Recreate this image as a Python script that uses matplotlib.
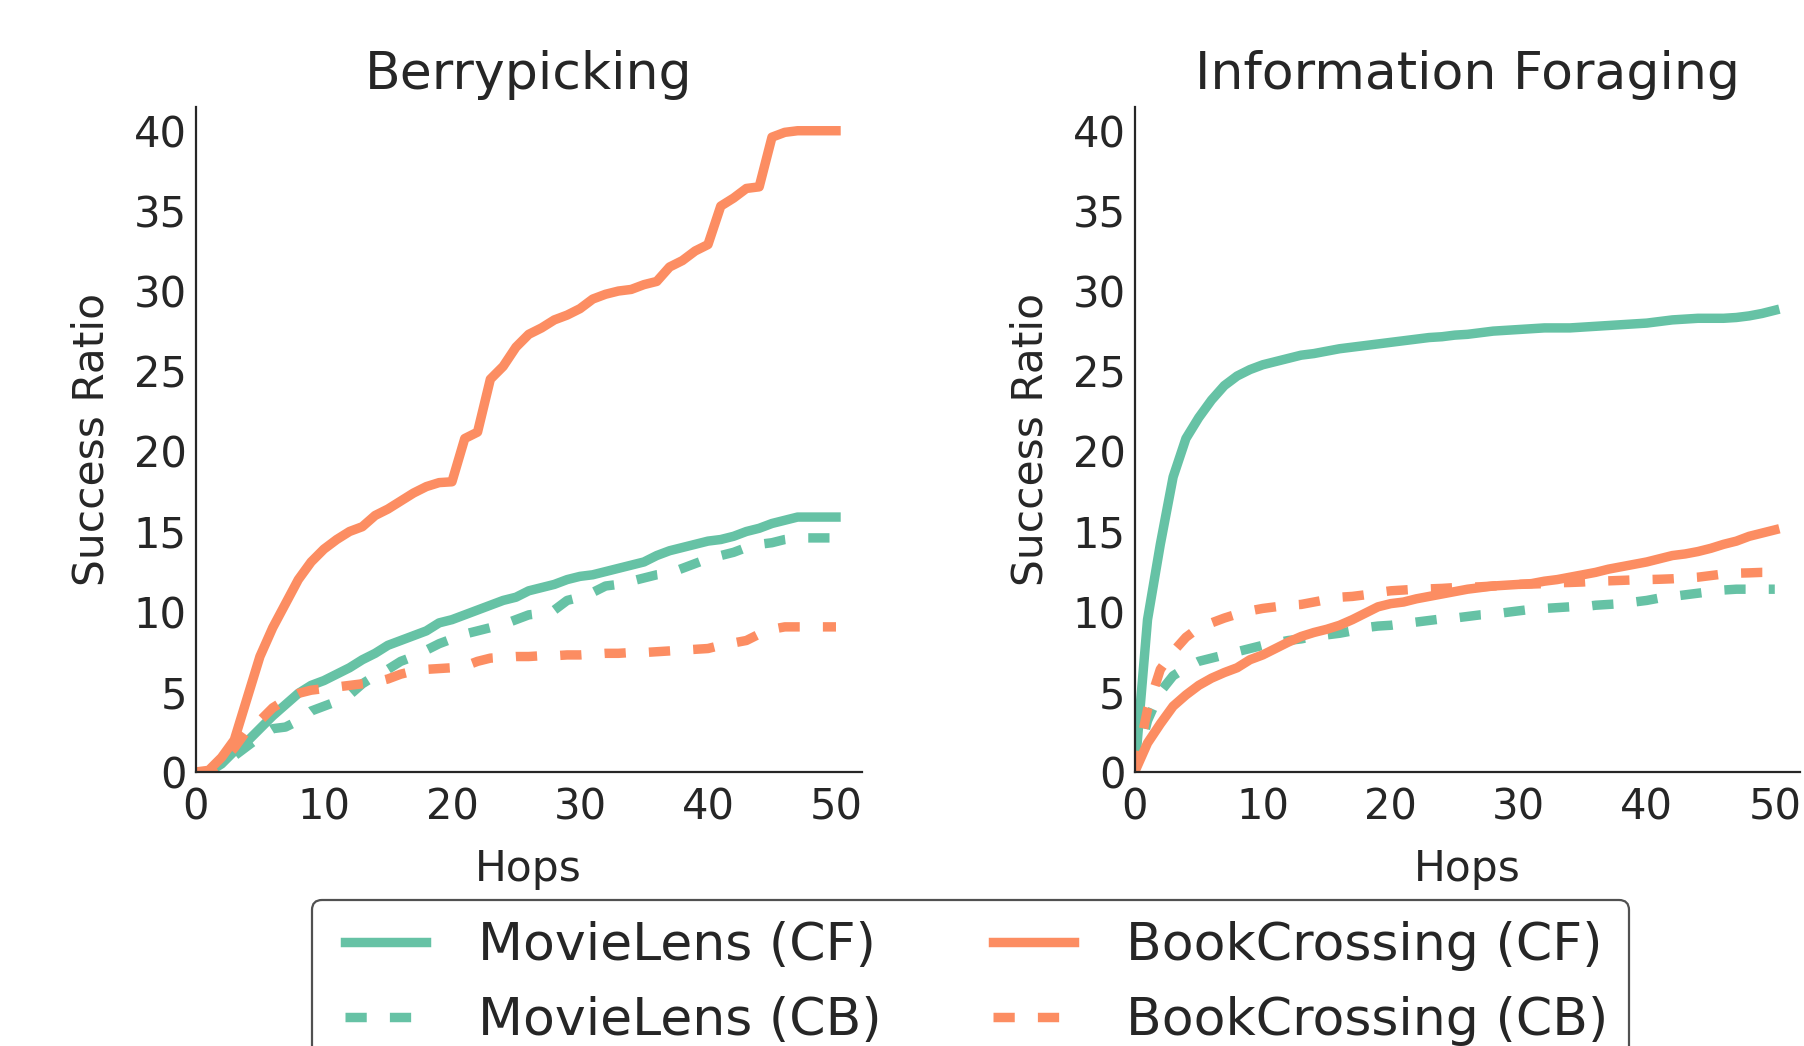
import matplotlib
matplotlib.use("Agg")
import matplotlib.pyplot as plt
from matplotlib.lines import Line2D
from matplotlib.legend_handler import HandlerLine2D

# hops 0..50
hops = list(range(51))

# Berrypicking
bp_movie_cf = [0, 0, 0.5, 1.3, 1.9, 2.7, 3.5, 4.2, 4.9, 5.4, 5.7, 6.1, 6.5, 7.0, 7.4, 7.9, 8.2,
               8.5, 8.8, 9.3, 9.5, 9.8, 10.1, 10.4, 10.7, 10.9, 11.3, 11.5, 11.7, 12.0, 12.2,
               12.3, 12.5, 12.7, 12.9, 13.1, 13.5, 13.8, 14.0, 14.2, 14.4, 14.5, 14.7, 15.0,
               15.2, 15.5, 15.7, 15.9, 15.9, 15.9, 15.9]
bp_movie_cb = [0, 0, 0.5, 1.0, 1.6, 2.2, 2.7, 2.8, 3.2, 3.8, 4.1, 4.4, 4.8, 5.5, 6.0, 6.4, 6.9,
               7.2, 7.6, 8.0, 8.3, 8.6, 8.8, 9.0, 9.2, 9.5, 9.8, 9.9, 10.1, 10.7, 10.9, 11.2,
               11.6, 11.7, 11.9, 12.1, 12.3, 12.4, 12.7, 13.0, 13.3, 13.5, 13.7, 14.0, 14.2,
               14.3, 14.5, 14.6, 14.6, 14.6, 14.6]
bp_book_cf = [0, 0.1, 0.9, 2.0, 4.6, 7.2, 9.0, 10.5, 12.0, 13.1, 13.9, 14.5, 15.0, 15.3, 16.0,
              16.4, 16.9, 17.4, 17.8, 18.05, 18.1, 20.8, 21.2, 24.5, 25.3, 26.5, 27.3, 27.7,
              28.2, 28.5, 28.9, 29.5, 29.8, 30.0, 30.1, 30.4, 30.6, 31.5, 31.9, 32.5, 32.9,
              35.3, 35.8, 36.4, 36.5, 39.6, 39.9, 40.0, 40.0, 40.0, 40.0]
bp_book_cb = [0, 0, 0.6, 1.5, 2.6, 3.2, 4.0, 4.5, 4.9, 5.1, 5.2, 5.3, 5.4, 5.5, 5.6, 5.8, 6.1,
              6.3, 6.4, 6.45, 6.5, 6.6, 6.9, 7.1, 7.15, 7.2, 7.2, 7.25, 7.25, 7.3, 7.3, 7.35,
              7.4, 7.4, 7.45, 7.45, 7.5, 7.55, 7.6, 7.65, 7.7, 7.9, 8.05, 8.2, 8.6, 8.9, 9.05,
              9.05, 9.05, 9.05, 9.05]

# Information Foraging
if_movie_cf = [0, 9.5, 14.2, 18.4, 20.8, 22.1, 23.2, 24.1, 24.7, 25.1, 25.4, 25.6, 25.8, 26.0,
               26.1, 26.25, 26.4, 26.5, 26.6, 26.7, 26.8, 26.9, 27.0, 27.1, 27.15, 27.25, 27.3,
               27.4, 27.5, 27.55, 27.6, 27.65, 27.7, 27.7, 27.7, 27.75, 27.8, 27.85, 27.9,
               27.95, 28.0, 28.1, 28.2, 28.25, 28.3, 28.3, 28.3, 28.35, 28.45, 28.6, 28.8]
if_movie_cb = [0, 3.2, 5.0, 6.0, 6.5, 6.9, 7.1, 7.3, 7.5, 7.7, 7.9, 8.05, 8.2, 8.3, 8.45, 8.55,
               8.65, 8.8, 9.0, 9.1, 9.15, 9.25, 9.35, 9.45, 9.55, 9.6, 9.7, 9.8, 9.85, 9.95,
               10.05, 10.15, 10.2, 10.25, 10.3, 10.3, 10.4, 10.45, 10.5, 10.6, 10.7, 10.85,
               10.95, 11.05, 11.15, 11.25, 11.35, 11.4, 11.4, 11.4, 11.4]
if_book_cf = [0, 1.8, 3.0, 4.1, 4.8, 5.4, 5.85, 6.2, 6.5, 7.0, 7.3, 7.7, 8.1, 8.45, 8.7, 8.9,
              9.15, 9.5, 9.9, 10.3, 10.5, 10.6, 10.8, 10.95, 11.1, 11.25, 11.4, 11.5, 11.6,
              11.65, 11.7, 11.75, 11.9, 12.0, 12.15, 12.3, 12.45, 12.65, 12.8, 12.95, 13.1,
              13.3, 13.5, 13.6, 13.75, 13.95, 14.2, 14.4, 14.7, 14.9, 15.1]
if_book_cb = [0, 3.9, 6.4, 7.5, 8.4, 9.0, 9.3, 9.6, 9.85, 10.05, 10.2, 10.3, 10.4, 10.45, 10.6,
              10.75, 10.9, 10.95, 11.05, 11.2, 11.3, 11.35, 11.4, 11.42, 11.45, 11.5, 11.52,
              11.55, 11.6, 11.65, 11.7, 11.72, 11.75, 11.8, 11.82, 11.85, 11.9, 11.92, 11.95,
              11.98, 12.0, 12.02, 12.05, 12.1, 12.15, 12.25, 12.35, 12.4, 12.42, 12.45, 12.45]

titles = ["Berrypicking", "Information Foraging"]
labels = ["MovieLens (CF)", "MovieLens (CB)", "BookCrossing (CF)", "BookCrossing (CB)"]
green = "#66c2a5"
orange = "#fc8d62"
dark = "#262626"

plt.rcParams["font.family"] = "DejaVu Sans"
plt.rcParams["text.color"] = dark
plt.rcParams["axes.labelcolor"] = dark
plt.rcParams["xtick.color"] = dark
plt.rcParams["ytick.color"] = dark

fig = plt.figure(figsize=(18.04, 10.46), dpi=100)
ax1 = fig.add_axes([0.1086, 0.262, 0.369, 0.636])
ax2 = fig.add_axes([0.629, 0.262, 0.369, 0.636])

lw = 6.8
dash = (2.25, 2.45)
panels = [(ax1, bp_movie_cf, bp_movie_cb, bp_book_cf, bp_book_cb),
          (ax2, if_movie_cf, if_movie_cb, if_book_cf, if_book_cb)]

for (ax, mcf, mcb, bcf, bcb), title in zip(panels, titles):
    ax.plot(hops, mcf, color=green, lw=lw, label=labels[0])
    ax.plot(hops, mcb, color=green, lw=lw, ls="--", dashes=dash, label=labels[1])
    ax.plot(hops, bcf, color=orange, lw=lw, label=labels[2])
    ax.plot(hops, bcb, color=orange, lw=lw, ls="--", dashes=dash, label=labels[3])
    ax.set_xlim(0, 52)
    ax.set_ylim(0, 41.5)
    ax.set_xticks(range(0, 51, 10))
    ax.set_yticks(range(0, 41, 5))
    ax.tick_params(length=0, labelsize=30)
    ax.tick_params(axis="x", pad=10.5)
    ax.tick_params(axis="y", pad=6.5)
    ax.set_xlabel("Hops", fontsize=30.5, labelpad=14)
    ax.set_ylabel("Success Ratio", fontsize=30.5, labelpad=15)
    ax.set_title(title, fontsize=37.5, pad=13)
    for s in ["top", "right"]:
        ax.spines[s].set_visible(False)
    for s in ["left", "bottom"]:
        ax.spines[s].set_color(dark)
        ax.spines[s].set_linewidth(1.6)

handles, labs = ax1.get_legend_handles_labels()
leg = fig.legend(handles, labs, loc="upper left", bbox_to_anchor=(312 / 1804, 1 - 900 / 1046),
                 ncol=2, fontsize=37.5, frameon=True, fancybox=True, borderaxespad=0,
                 borderpad=0.4, labelspacing=0.48, handlelength=1.79, handletextpad=1.0,
                 columnspacing=1.9, handler_map={Line2D: HandlerLine2D(xpad=0.24)})
leg.get_frame().set_edgecolor(dark)
leg.get_frame().set_linewidth(1.6)

fig.savefig("out.png", dpi=100)
